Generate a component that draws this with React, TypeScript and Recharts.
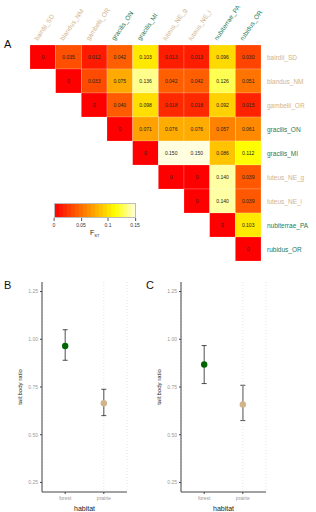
import React from 'react'
import { ScatterChart, Scatter, XAxis, YAxis, CartesianGrid, ErrorBar } from 'recharts'

const species = ['bairdii_SD', 'blandus_NM', 'gambelii_OR', 'gracilis_ON', 'gracilis_MI', 'luteus_NE_g', 'luteus_NE_i', 'nubiterrae_PA', 'rubidus_OR']
const speciesHabitat = ['prairie', 'prairie', 'prairie', 'forest', 'forest', 'prairie', 'prairie', 'forest', 'forest']

// upper triangle of the pairwise Fst matrix, row by row starting at the diagonal
const fstRows = [
  [0, 0.035, 0.012, 0.042, 0.103, 0.013, 0.013, 0.096, 0.030],
  [0, 0.033, 0.075, 0.136, 0.042, 0.042, 0.126, 0.051],
  [0, 0.040, 0.098, 0.018, 0.018, 0.092, 0.015],
  [0, 0.071, 0.076, 0.076, 0.057, 0.061],
  [0, 0.150, 0.150, 0.086, 0.112],
  [0, 0, 0.140, 0.039],
  [0, 0.140, 0.039],
  [0, 0.103],
  [0],
]
const fstTicks = [0, 0.05, 0.1, 0.15]

const habitats = ['forest', 'prairie']
const ratioTicks = [0.25, 0.5, 0.75, 1.0, 1.25]
// mean, lower, upper
const panelB = [
  [0.965, 0.89, 1.05],
  [0.665, 0.60, 0.738],
]
const panelC = [
  [0.868, 0.768, 0.967],
  [0.658, 0.574, 0.759],
]

const font = 'Liberation Sans, Arial, sans-serif'
const tan = '#d2b48c'
const green = '#1f7a58'
const habitatColor: Record<string, string> = { forest: '#006400', prairie: '#d2b48c' }

// heat.colors-like ramp: red -> yellow -> pale yellow
function heat(v: number) {
  const t = Math.max(0, Math.min(1, v / 0.15))
  if (t <= 0.75) {
    const g = Math.round((t / 0.75) * 255)
    return `rgb(255,${g},0)`
  }
  const b = Math.round(((t - 0.75) / 0.25) * 224)
  return `rgb(255,255,${b})`
}

const HW = 316
const HH = 270
const plotL = 30
const plotR = 261
const plotT = 45
const plotB = 261
const cellW = (plotR - plotL) / 9
const cellH = (plotB - plotT) / 9

const cells = fstRows.flatMap((row, i) =>
  row.map((v, k) => ({ x: i + k + 0.5, y: i + 0.5, v }))
)

const CellShape = (props: any) => {
  const { cx, cy, payload } = props
  return (
    <g>
      <rect x={cx - cellW / 2} y={cy - cellH / 2} width={cellW} height={cellH} fill={heat(payload.v)} stroke="#ffffff" strokeOpacity={0.35} strokeWidth={0.5} />
      <text x={cx} y={cy + 1.8} textAnchor="middle" fontSize={5} fill="#222" fontFamily={font}>
        {payload.v === 0 ? '0' : payload.v.toFixed(3)}
      </text>
    </g>
  )
}

const ColTick = (props: any) => {
  const { x, payload } = props
  const idx = Math.round(payload.value - 0.5)
  const c = speciesHabitat[idx] === 'forest' ? green : tan
  const y0 = plotT - 4
  return (
    <text x={x - 5} y={y0} transform={`rotate(-56 ${x - 5} ${y0})`} fontSize={6.5} fill={c} fontFamily={font}>
      {species[idx]}
    </text>
  )
}

const RowTick = (props: any) => {
  const { y, payload } = props
  const idx = Math.round(payload.value - 0.5)
  const c = speciesHabitat[idx] === 'forest' ? green : tan
  return (
    <text x={plotR + 6} y={y + 2.5} fontSize={6.5} fill={c} fontFamily={font}>
      {species[idx]}
    </text>
  )
}

const centers = species.map((_, i) => i + 0.5)

function Heatmap() {
  return (
    <ScatterChart width={HW} height={HH} margin={{ top: 15, right: 0, bottom: HH - plotB, left: plotL }}>
      <XAxis type="number" dataKey="x" orientation="top" domain={[0, 9]} ticks={centers} height={plotT - 15} axisLine={false} tickLine={false} tick={<ColTick />} interval={0} />
      <YAxis type="number" dataKey="y" orientation="right" domain={[0, 9]} reversed ticks={centers} width={HW - plotR} axisLine={false} tickLine={false} tick={<RowTick />} interval={0} />
      <Scatter data={cells} shape={<CellShape />} isAnimationActive={false} />
    </ScatterChart>
  )
}

function ColorBar() {
  const steps = Array.from({ length: 20 }, (_, i) => (i + 0.5) * 0.15 / 20)
  return (
    <div style={{ position: 'absolute', left: 54, top: 203, width: 82, fontFamily: font }}>
      <div style={{ display: 'flex', height: 13, border: '0.5px solid #bbb' }}>
        {steps.map((s, i) => (
          <div key={i} style={{ flex: 1, background: heat(s) }} />
        ))}
      </div>
      <div style={{ position: 'relative', height: 20 }}>
        {fstTicks.map((t) => (
          <div key={t} style={{ position: 'absolute', left: (t / 0.15) * 81, top: 0, transform: 'translateX(-50%)', textAlign: 'center' }}>
            <div style={{ width: 0.5, height: 3, background: '#555', margin: '0 auto' }} />
            <div style={{ fontSize: 5, color: '#333', lineHeight: '6px', marginTop: 1 }}>{t}</div>
          </div>
        ))}
        <div style={{ position: 'absolute', left: 36, top: 11, fontSize: 7, color: '#222' }}>
          F<sub style={{ fontSize: 4 }}>ST</sub>
        </div>
      </div>
    </div>
  )
}

function RatioPanel({ stats, greyPrairie }: { stats: number[][]; greyPrairie?: boolean }) {
  const pts = stats.map((s, i) => ({ x: i + 1, y: s[0], err: [s[0] - s[1], s[2] - s[0]] }))
  return (
    <ScatterChart width={150} height={232} margin={{ top: 2, right: 23, bottom: 0, left: 12 }}>
      <CartesianGrid horizontal={false} stroke="#d0d0d0" strokeDasharray="1 2" strokeWidth={0.6} />
      <XAxis
        type="number"
        dataKey="x"
        domain={[0.4, 2.6]}
        ticks={[1, 2]}
        tickFormatter={(v: number) => habitats[v - 1]}
        height={20}
        tickSize={2}
        tick={{ fontSize: 5, fill: '#999', fontFamily: font }}
        stroke="#444"
        label={{ value: 'habitat', position: 'insideBottom', offset: 1, fontSize: 7, fill: '#222', fontFamily: font }}
      />
      <YAxis
        type="number"
        dataKey="y"
        domain={[0.2, 1.3]}
        ticks={ratioTicks}
        tickFormatter={(v: number) => v.toFixed(2)}
        width={30}
        tickSize={2}
        tick={{ fontSize: 5, fill: '#999', fontFamily: font }}
        stroke="#444"
        label={{ value: 'tail:body ratio', angle: -90, position: 'insideLeft', offset: 8, fontSize: 6, fill: '#222', fontFamily: font, style: { textAnchor: 'middle' } }}
      />
      {pts.map((p, i) => (
        <Scatter key={i} data={[p]} fill={habitatColor[habitats[i]]} isAnimationActive={false} shape={(sp: any) => <circle cx={sp.cx} cy={sp.cy} r={3.2} fill={habitatColor[habitats[i]]} />}>
          <ErrorBar dataKey="err" direction="y" width={2.5} stroke="#222" strokeWidth={0.8} />
          {greyPrairie && i === 1 && <ErrorBar dataKey="err" direction="y" width={0} stroke="#a0a0a0" strokeWidth={1.4} />}
        </Scatter>
      ))}
    </ScatterChart>
  )
}

const letter: React.CSSProperties = { position: 'absolute', fontFamily: font, fontSize: 11, lineHeight: '13px', color: '#111' }

export default function App() {
  return (
    <div style={{ position: 'absolute', left: 0, top: 0, width: 316, height: 512, background: '#fff', overflow: 'hidden' }}>
      <div style={{ position: 'absolute', left: 0, top: 0 }}>
        <Heatmap />
      </div>
      <ColorBar />
      <div style={{ position: 'absolute', left: 0, top: 280 }}>
        <RatioPanel stats={panelB} />
      </div>
      <div style={{ position: 'absolute', left: 139, top: 280 }}>
        <RatioPanel stats={panelC} greyPrairie />
      </div>
      <div style={{ ...letter, left: 4, top: 38 }}>A</div>
      <div style={{ ...letter, left: 4, top: 279 }}>B</div>
      <div style={{ ...letter, left: 146, top: 279 }}>C</div>
    </div>
  )
}
